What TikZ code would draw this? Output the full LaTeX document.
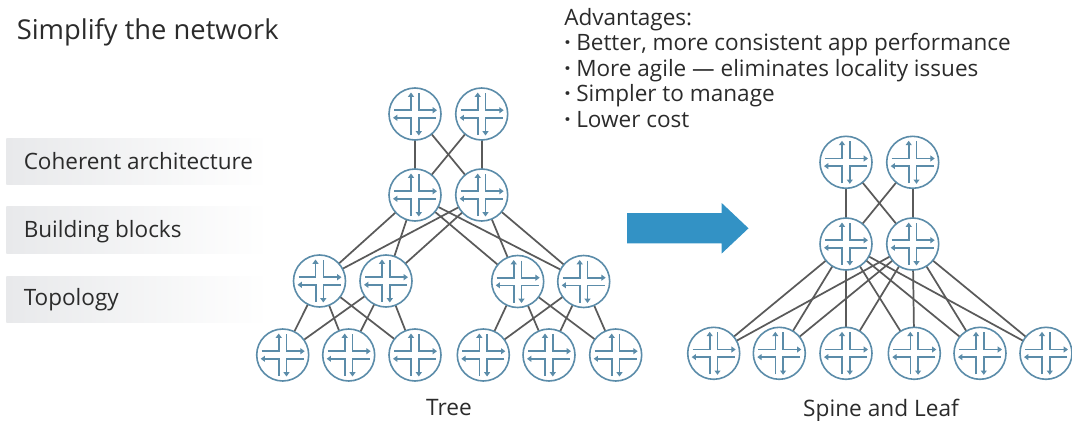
\documentclass[tikz,border=0pt]{standalone}
\usepackage{fontspec}
\setmainfont{Open Sans}
\usetikzlibrary{arrows.meta,backgrounds}
\definecolor{routerblue}{HTML}{5B8CA9}
\definecolor{linkgrey}{HTML}{5A5A5A}
\definecolor{arrowblue}{HTML}{3392C5}
\definecolor{bandgrey}{HTML}{E8E9EB}
\definecolor{inktext}{HTML}{2B2B2B}
\newcommand{\bul}{\makebox[9pt][l]{\bfseries ·}}
\tikzset{
  routernode/.style={circle,draw=routerblue,fill=white,line width=1.2pt,minimum size=39pt,inner sep=0pt,outer sep=0pt},
  routerline/.style={draw=routerblue,line width=1.2pt,-{Triangle[length=3.2pt,width=4.4pt]}},
  link/.style={draw=linkgrey,line width=1.3pt},
  bandbox/.style={anchor=west,minimum width=196.5pt,minimum height=35pt,inner sep=0pt,left color=bandgrey,right color=white,shading angle=90},
  txt/.style={anchor=base west,inner sep=0pt,text=inktext,font=\fontsize{16.9pt}{20pt}\selectfont},
  captxt/.style={anchor=base,inner sep=0pt,text=inktext,font=\fontsize{17pt}{20pt}\selectfont},
  routericon/.pic={
    \draw[routerline] (-21,-3.8) -- (-4,-3.8) -- (-4,-21.5);
    \draw[routerline] (3.8,-21) -- (3.8,-3.8) -- (22,-3.8);
    \draw[routerline] (-3.8,21) -- (-3.8,3.8) -- (-22,3.8);
    \draw[routerline] (21,3.8) -- (3.8,3.8) -- (3.8,21.5);
  }
}
\newcommand{\router}[3]{\node[routernode] (#1) at (#2,#3) {}; \pic at (#1) {routericon};}
\begin{document}
\begin{tikzpicture}[x=0.75pt,y=-0.75pt]
\useasboundingbox (0,0) rectangle (1072,421);
% text
\node[txt,font=\fontsize{20.5pt}{24pt}\selectfont] (title) at (16.5,39) {Simplify the network};
\node[txt] (adv0) at (564,25.5) {Advantages:};
\node[txt] (adv1) at (564,50.5) {\bul Better, more consistent app performance};
\node[txt] (adv2) at (564,76) {\bul More agile — eliminates locality issues};
\node[txt] (adv3) at (564,101.5) {\bul Simpler to manage};
\node[txt] (adv4) at (564,127) {\bul Lower cost};
% bands
\node[bandbox] (b1) at (6,161.6) {};
\node[bandbox] (b2) at (6,230.3) {};
\node[bandbox] (b3) at (6,299.5) {};
\node[txt] (b1t) at (23.5,169.5) {Coherent architecture};
\node[txt] (b2t) at (23.5,237.5) {Building blocks};
\node[txt] (b3t) at (23.5,305.5) {Topology};
% big arrow
\fill[arrowblue] (627,213) -- (721.7,213) -- (721.7,203) -- (748.5,228.3) -- (721.7,253.5) -- (721.7,243.3) -- (627,243.3) -- cycle;
% tree routers
\router{ta}{415}{114}\router{tb}{481.7}{114}
\router{ma}{415}{195}\router{mb}{481.7}{195}
\router{ca}{319.5}{281}\router{cb}{386}{281}\router{cc}{517.7}{281.5}\router{cd}{583.7}{281.5}
\router{la}{282.7}{355}\router{lb}{348.7}{355}\router{lc}{415}{355}
\router{ld}{483.3}{355}\router{le}{549}{355}\router{lf}{615.7}{355}
% spine leaf routers
\router{sa}{846}{162.3}\router{sb}{912.7}{162.3}
\router{na}{846}{244}\router{nb}{912.7}{244}
\router{pa}{713.7}{353.3}\router{pb}{779.3}{353.3}\router{pc}{846}{353.3}\router{pd}{914.3}{353.3}\router{pe}{980}{353.3}\router{pf}{1046}{353.3}
\begin{scope}[on background layer]
\foreach \u in {ta,tb} \foreach \v in {ma,mb} \draw[link] (\u) -- (\v);
\foreach \u in {ma,mb} \foreach \v in {ca,cb,cc,cd} \draw[link] (\u) -- (\v);
\foreach \u in {ca,cb} \foreach \v in {la,lb,lc} \draw[link] (\u) -- (\v);
\foreach \u in {cc,cd} \foreach \v in {ld,le,lf} \draw[link] (\u) -- (\v);
\foreach \u in {sa,sb} \foreach \v in {na,nb} \draw[link] (\u) -- (\v);
\foreach \u in {na,nb} \foreach \v in {pa,pb,pc,pd,pe,pf} \draw[link] (\u) -- (\v);
\end{scope}
\node[captxt] (treecap) at (449,415.5) {Tree};
\node[captxt] (slcap) at (881,416) {Spine and Leaf};
\end{tikzpicture}
\end{document}
